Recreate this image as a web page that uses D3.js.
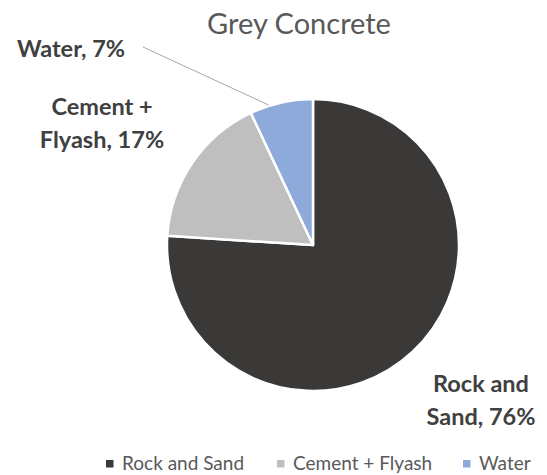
<!DOCTYPE html>
<html>
<head>
<meta charset="utf-8">
<script src="https://cdn.jsdelivr.net/npm/d3@7"></script>
<style>
  html, body { margin: 0; padding: 0; background: #fff; }
  svg { display: block; font-family: Lato, "Open Sans", sans-serif; }
</style>
</head>
<body>
<svg id="chart" width="547" height="475"></svg>
<script>
// Mix proportions of grey concrete (percent)
const categories = ["Rock and Sand", "Cement + Flyash", "Water"];
const values = [76, 17, 7];
const colors = ["#3b3838", "#bfbfbf", "#8eaadb"];
const titleText = "Grey Concrete";

const svg = d3.select("#chart");
const cx = 313, cy = 245, radius = 146;

svg.append("text")
  .attr("x", 299).attr("y", 34)
  .attr("text-anchor", "middle")
  .attr("font-size", 29)
  .attr("fill", "#595959")
  .text(titleText);

const pie = d3.pie().sort(null).value(d => d.value);
const arcs = pie(categories.map((c, i) => ({ name: c, value: values[i], color: colors[i] })));
const arc = d3.arc().innerRadius(0).outerRadius(radius);

const g = svg.append("g").attr("transform", `translate(${cx},${cy})`);
g.selectAll("path")
  .data(arcs)
  .join("path")
  .attr("d", arc)
  .attr("fill", d => d.data.color)
  .attr("stroke", "#fff")
  .attr("stroke-width", 2.5)
  .attr("stroke-linejoin", "round");

// Data labels (category, percent)
const labelStyle = sel => sel
  .attr("font-size", 23.5)
  .attr("font-weight", "bold")
  .attr("fill", "#404040")
  .attr("text-anchor", "middle");

const labelPos = {
  "Rock and Sand": { x: 481, y: 392, lines: ["Rock and", "Sand, " + values[0] + "%"] },
  "Cement + Flyash": { x: 102, y: 115, lines: ["Cement +", "Flyash, " + values[1] + "%"] },
  "Water": { x: 71, y: 57, lines: ["Water, " + values[2] + "%"] }
};

arcs.forEach(d => {
  const p = labelPos[d.data.name];
  const t = svg.append("text").call(labelStyle);
  p.lines.forEach((ln, i) => {
    t.append("tspan").attr("x", p.x).attr("y", p.y + i * 33).text(ln);
  });
});

// Leader line for the small Water slice
const water = arcs[2];
const midA = water.startAngle + (water.endAngle - water.startAngle) * 0.3;
const ex = cx + Math.sin(midA) * (radius + 1);
const ey = cy - Math.cos(midA) * (radius + 1);
svg.append("line")
  .attr("x1", 143).attr("y1", 47)
  .attr("x2", ex).attr("y2", ey)
  .attr("stroke", "#a6a6a6")
  .attr("stroke-width", 1);

// Legend
const legendX = [106, 277, 463];
const legend = svg.append("g").attr("font-size", 19).attr("fill", "#595959");
categories.forEach((c, i) => {
  legend.append("rect")
    .attr("x", legendX[i]).attr("y", 460)
    .attr("width", 7.5).attr("height", 7.5)
    .attr("fill", colors[i]);
  legend.append("text")
    .attr("x", legendX[i] + 16).attr("y", 470)
    .text(c);
});
</script>
</body>
</html>
